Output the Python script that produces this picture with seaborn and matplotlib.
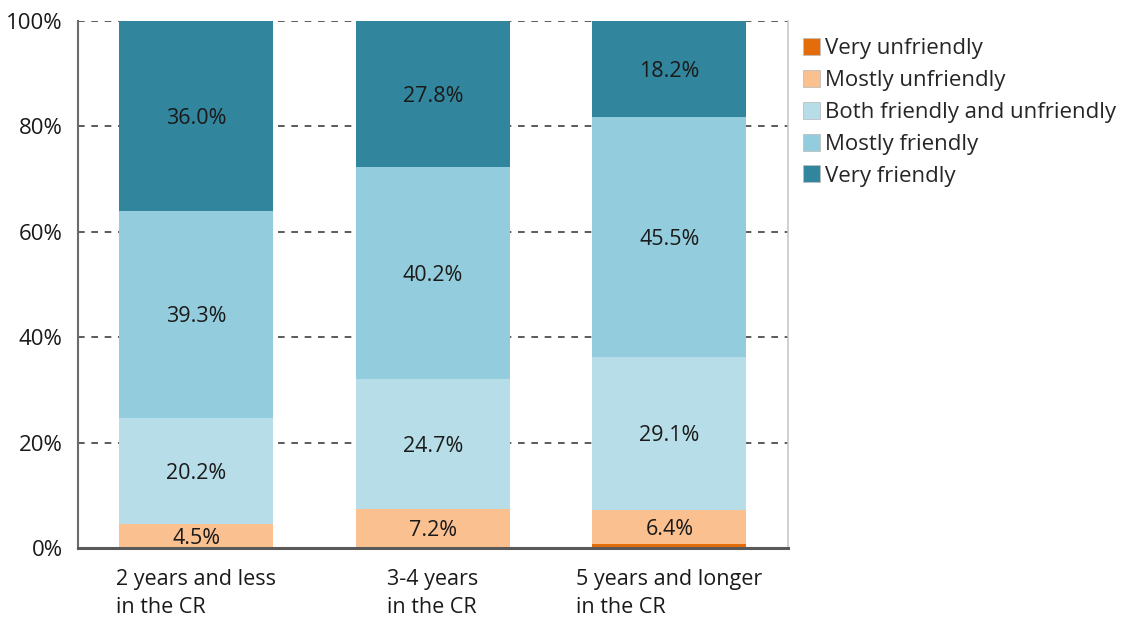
import numpy as np
import matplotlib
matplotlib.use("Agg")
import matplotlib.pyplot as plt
import matplotlib.patches as mpatches
import seaborn as sns

# data
groups = ["2 years and less\nin the CR", "3-4 years\nin the CR", "5 years and longer\nin the CR"]
levels = ["Very unfriendly", "Mostly unfriendly", "Both friendly and unfriendly",
          "Mostly friendly", "Very friendly"]
very_unfriendly = [0.0, 0.1, 0.8]
mostly_unfriendly = [4.5, 7.2, 6.4]
both = [20.2, 24.7, 29.1]
mostly_friendly = [39.3, 40.2, 45.5]
very_friendly = [36.0, 27.8, 18.2]
colors = ["#E46C0A", "#FAC090", "#B7DEE8", "#93CDDD", "#31859C"]

sns.set_style("white")
plt.rcParams["font.family"] = ["Open Sans", "DejaVu Sans"]

series = [very_unfriendly, mostly_unfriendly, both, mostly_friendly, very_friendly]
cum = np.cumsum(np.array(series), axis=0)

fig = plt.figure(figsize=(11.21, 6.18), dpi=100)
ax = fig.add_axes([0.0696, 0.1133, 0.633, 0.853])

# stacked bars: draw cumulative totals from the top down
for i in range(len(levels) - 1, -1, -1):
    sns.barplot(x=groups, y=cum[i], color=colors[i], width=0.65, ax=ax,
                saturation=1, linewidth=0)

# value labels (skip tiny very-unfriendly segments)
for i in range(1, len(levels)):
    for j in range(len(groups)):
        v = series[i][j]
        mid = cum[i][j] - v / 2
        ax.text(j, mid, f"{v:.1f}%", ha="center", va="center_baseline",
                fontsize=15.5, color="#1a1a1a")

ax.set_ylim(0, 100)
ax.set_xlim(-0.5, 2.5)
ax.set_yticks(range(0, 101, 20))
ax.set_yticklabels([f"{t}%" for t in range(0, 101, 20)], fontsize=16, color="#1a1a1a")
ax.set_axisbelow(True)
ax.yaxis.grid(True, linestyle=(0, (4, 4)), color="#404040", linewidth=1.2)
ax.set_xticks(range(3))
ax.set_xticklabels(groups, fontsize=15.5, color="#1a1a1a", linespacing=1.45, va="top")
for lab in ax.get_xticklabels():
    lab.set_multialignment("left")
ax.tick_params(axis="x", length=0, pad=15)
ax.tick_params(axis="y", length=0, pad=11)
ax.set_xlabel("")
ax.set_ylabel("")

ax.spines["top"].set_visible(False)
ax.spines["left"].set_color("#6b6b6b")
ax.spines["left"].set_linewidth(1.5)
ax.spines["bottom"].set_color("#595959")
ax.spines["bottom"].set_linewidth(2.2)
ax.spines["right"].set_color("#c8c8c8")
ax.spines["right"].set_linewidth(1.2)

handles = [mpatches.Patch(facecolor=c, edgecolor="#bfbfbf", linewidth=0.6) for c in colors]
fig.legend(handles, levels, loc="upper left", bbox_to_anchor=(0.708, 0.953),
           frameon=False, fontsize=16, handlelength=0.8, handleheight=0.8,
           handletextpad=0.2, labelspacing=0.48, borderaxespad=0)

fig.savefig("out.png", dpi=100)
